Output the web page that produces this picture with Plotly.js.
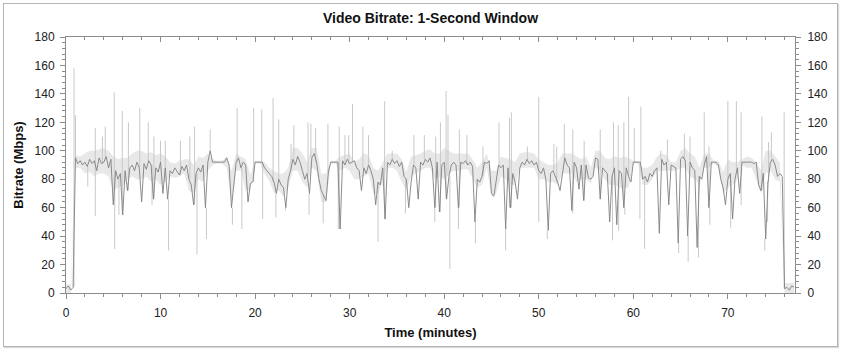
<!DOCTYPE html>
<html>
<head>
<meta charset="utf-8">
<script src="https://cdn.plot.ly/plotly-3.0.1.min.js"></script>
<style>
  html, body { margin: 0; padding: 0; background: #ffffff; }
  #wrap { position: relative; width: 842px; height: 351px; }
  #chart { width: 842px; height: 351px; }
  #frame { position: absolute; left: 3px; top: 3px; width: 833px; height: 342px;
           border: 1px solid #b4b4b4; box-shadow: 1px 1px 1px #d8d8d8; pointer-events: none; }
</style>
</head>
<body>
<div id="wrap">
  <div id="chart"></div>
  <div id="frame"></div>
</div>
<script>
// Sample spacing of the main series, in minutes
const sampleStepMin = 0.25;

// Video bitrate (Mbps), one value per sampleStepMin, starting at t = 0 min (4 values per minute)
const bitrate = [
  3, 5, 2, 4,        // 0
  95, 91, 93, 90,    // 1
  92, 89, 94, 91,    // 2
  93, 86, 95, 91,    // 3
  92, 96, 88, 94,    // 4
  62, 86, 80, 84,    // 5
  55, 86, 72, 88,    // 6
  90, 86, 92, 88,    // 7
  64, 91, 87, 93,    // 8
  90, 66, 88, 85,    // 9
  92, 70, 88, 66,    // 10
  86, 84, 88, 85,    // 11
  83, 89, 86, 90,    // 12
  80, 76, 62, 84,    // 13
  88, 85, 90, 60,    // 14
  92, 100, 92, 92,   // 15
  92, 92, 92, 92,    // 16
  95, 90, 60, 76,    // 17
  92, 95, 88, 92,    // 18
  90, 64, 77, 78,    // 19
  92, 92, 92, 92,    // 20
  88, 86, 84, 82,    // 21
  78, 70, 80, 76,    // 22
  74, 60, 80, 86,    // 23
  94, 90, 96, 92,    // 24
  86, 80, 84, 70,    // 25
  95, 98, 92, 80,    // 26
  72, 68, 65, 85,    // 27
  92, 92, 92, 92,    // 28
  45, 93, 90, 94,    // 29
  91, 92, 93, 88,    // 30
  86, 72, 88, 84,    // 31
  90, 86, 80, 62,    // 32
  78, 76, 88, 52,    // 33
  92, 90, 94, 91,    // 34
  93, 89, 92, 82,    // 35
  80, 60, 78, 90,    // 36
  88, 66, 92, 90,    // 37
  94, 92, 95, 88,    // 38
  60, 92, 57, 90,    // 39
  92, 66, 82, 90,    // 40
  92, 90, 60, 92,    // 41
  91, 93, 90, 92,    // 42
  89, 50, 80, 78,    // 43
  82, 92, 91, 93,    // 44
  70, 68, 80, 90,    // 45
  88, 90, 45, 88,    // 46
  60, 84, 78, 66,    // 47
  88, 92, 90, 94,    // 48
  91, 93, 90, 92,    // 49
  86, 84, 88, 80,    // 50
  44, 84, 86, 82,    // 51
  78, 72, 84, 95,    // 52
  90, 88, 58, 92,    // 53
  88, 73, 90, 65,    // 54
  90, 81, 80, 82,    // 55
  95, 94, 66, 88,    // 56
  86, 84, 50, 82,    // 57
  88, 48, 86, 84,    // 58
  60, 88, 82, 78,    // 59
  92, 92, 92, 92,    // 60
  80, 82, 78, 84,    // 61
  82, 86, 88, 42,    // 62
  94, 90, 92, 62,    // 63
  90, 89, 88, 35,    // 64
  94, 96, 93, 40,    // 65
  92, 88, 86, 32,    // 66
  82, 80, 90, 96,    // 67
  60, 92, 92, 92,    // 68
  90, 80, 74, 62,    // 69
  80, 84, 52, 80,    // 70
  88, 70, 92, 92,    // 71
  92, 92, 92, 91,    // 72
  92, 76, 72, 84,    // 73
  38, 78, 92, 94,    // 74
  90, 82, 84, 82,    // 75
  3, 4, 2, 5,        // 76
  4                  // 77
];

// Spread of the 1-second values around the main line, every 0.5 min (t = 0, 0.5, 1, ... 77)
const envStepMin = 0.5;
const spreadHigh = [
  6, 6,  97, 96,  98, 100,  100, 101,  102, 100,  96, 94,  95, 95,  98, 100,  100, 98,  99, 97,
  98, 96,  92, 91,  93, 94,  94, 90,  96, 95,  98, 94,  93, 93,  96, 86,  98, 96,  94, 83,
  93, 93,  92, 88,  86, 84,  84, 88,  102, 102,  98, 92,  102, 102,  84, 84,  93, 93,  96, 97,
  98, 92,  94, 98,  97, 88,  86, 92,  98, 98,  98, 94,  85, 96,  97, 98,  100, 101,  98, 98,
  102, 100,  98, 98,  98, 98,  94, 88,  92, 98,  86, 86,  96, 95,  94, 92,  98, 99,  99, 98,
  94, 92,  90, 90,  92, 98,  98, 98,  96, 94,  96, 88,  100, 100,  95, 94,  96, 95,  96, 95,
  93, 93,  88, 88,  90, 96,  98, 97,  92, 92,  100, 102,  98, 96,  88, 98,  98, 93,  93, 85,
  94, 92,  92, 94,  96, 95,  92, 86,  100, 100,  96, 92,  7, 7,  7
];
const spreadLow = [
  0, 0,  88, 88,  84, 85,  82, 84,  84, 82,  72, 74,  76, 80,  82, 80,  80, 82,  78, 80,
  76, 78,  82, 81,  82, 84,  72, 70,  80, 78,  86, 90,  91, 91,  88, 64,  86, 86,  72, 72,
  91, 91,  84, 79,  70, 72,  68, 74,  86, 86,  78, 74,  88, 86,  64, 64,  91, 91,  86, 88,
  86, 80,  80, 82,  84, 70,  70, 78,  88, 88,  86, 78,  72, 82,  84, 86,  88, 88,  80, 82,
  80, 84,  86, 86,  87, 87,  80, 74,  76, 88,  68, 70,  82, 80,  76, 76,  88, 88,  88, 88,
  80, 80,  78, 78,  76, 84,  84, 84,  78, 80,  80, 77,  88, 86,  80, 76,  76, 74,  74, 74,
  91, 91,  76, 76,  80, 86,  86, 86,  86, 86,  88, 88,  82, 80,  76, 88,  88, 91,  88, 70,
  74, 76,  80, 90,  88, 88,  80, 70,  84, 86,  80, 78,  0, 0,  0
];

// Short 1-second peaks (upward): time (min), bitrate (Mbps)
const peakTimes = [0.85, 1.0, 3.1, 3.85, 4.15, 5.1, 5.95, 6.6, 7.8, 8.7, 9.3, 10.0, 10.5, 12.1, 13.1, 13.6,
  15.25, 18.1, 19.85, 20.7, 21.9, 22.5, 23.8, 24.1, 25.6, 25.9, 26.4, 27.7, 28.9, 29.5, 29.9, 30.3, 31.4,
  32.0, 33.7, 34.5, 36.8, 37.9, 39.1, 39.6, 40.2, 40.4, 41.6, 42.4, 44.1, 45.8, 46.9, 47.1, 48.8, 50.0,
  51.6, 51.9, 52.7, 53.6, 54.8, 56.5, 57.9, 58.4, 59.0, 59.5, 60.1, 60.8, 62.9, 63.6, 65.4, 66.0, 67.5,
  68.0, 70.0, 70.9, 71.4, 73.6, 74.3, 74.6, 75.95];
const peakValues = [158, 125, 116, 110, 117, 141, 128, 120, 130, 120, 110, 107, 107, 107, 110, 117,
  115, 130, 130, 129, 137, 122, 105, 118, 120, 119, 116, 119, 117, 111, 111, 133, 117,
  111, 135, 100, 111, 111, 110, 120, 142, 125, 115, 111, 103, 120, 123, 127, 103, 138,
  105, 103, 119, 115, 107, 115, 120, 118, 120, 138, 116, 131, 100, 108, 112, 110, 127,
  103, 135, 135, 127, 124, 106, 113, 127];

// Short 1-second drops (downward): time (min), bitrate (Mbps)
const dropTimes = [2.3, 3.1, 5.15, 5.6, 9.1, 10.85, 13.85, 14.85, 17.6, 18.6, 20.8, 22.2, 23.2, 25.7, 27.2,
  28.8, 33.0, 35.9, 37.3, 39.0, 40.6, 41.5, 43.3, 46.5, 50.0, 50.9, 53.6, 57.8, 58.45, 59.1, 60.7, 61.2,
  62.8, 64.8, 65.8, 66.9, 68.1, 69.8, 70.3, 71.4, 73.9, 74.2];
const dropValues = [75, 54, 31, 55, 62, 30, 27, 38, 48, 45, 52, 53, 58, 55, 49,
  45, 36, 56, 66, 50, 17, 45, 35, 30, 50, 38, 56, 37, 44, 55, 52, 31,
  42, 28, 22, 25, 48, 62, 46, 62, 30, 50];

// Axis tick values
const xTickVals = [0, 10, 20, 30, 40, 50, 60, 70];
const yTickVals = [0, 20, 40, 60, 80, 100, 120, 140, 160, 180];

// ---- build traces ----
const times = bitrate.map((_, i) => i * sampleStepMin);
const envTimes = spreadHigh.map((_, i) => i * envStepMin);

function spikeSegments(ts, vs) {
  const xs = [], ys = [];
  ts.forEach((t, k) => {
    const idx = Math.min(bitrate.length - 1, Math.round(t / sampleStepMin));
    xs.push(t, t, null);
    ys.push(bitrate[idx], vs[k], null);
  });
  return { xs, ys };
}
const up = spikeSegments(peakTimes, peakValues);
const down = spikeSegments(dropTimes, dropValues);

const font = "'Liberation Sans', Arial, sans-serif";

const traces = [
  { x: envTimes, y: spreadLow, type: 'scatter', mode: 'lines', line: { width: 0, color: 'rgba(0,0,0,0)' },
    hoverinfo: 'skip', xaxis: 'x', yaxis: 'y', showlegend: false },
  { x: envTimes, y: spreadHigh, type: 'scatter', mode: 'lines', line: { width: 0, color: 'rgba(0,0,0,0)' },
    fill: 'tonexty', fillcolor: 'rgba(195,195,195,0.38)',
    hoverinfo: 'skip', xaxis: 'x', yaxis: 'y', showlegend: false },
  { x: up.xs.concat(down.xs), y: up.ys.concat(down.ys), type: 'scatter', mode: 'lines',
    line: { color: '#c8c8c8', width: 1 }, connectgaps: false, hoverinfo: 'skip',
    xaxis: 'x', yaxis: 'y', showlegend: false },
  { x: times, y: bitrate, type: 'scatter', mode: 'lines',
    line: { color: '#808080', width: 0.9 }, hoverinfo: 'skip',
    xaxis: 'x2', yaxis: 'y2', showlegend: false }
];

const axisCommon = {
  showgrid: false, zeroline: false, showline: true, linecolor: '#8c8c8c', linewidth: 1,
  tickcolor: '#8c8c8c', ticklen: 5, tickwidth: 1,
  tickfont: { family: font, size: 12, color: '#222222' }
};

const layout = {
  width: 842, height: 351,
  margin: { l: 66, r: 47, t: 37, b: 58, pad: 0 },
  paper_bgcolor: '#ffffff', plot_bgcolor: '#ffffff',
  showlegend: false,
  title: { text: '<b>Video Bitrate: 1-Second Window</b>', font: { family: font, size: 14, color: '#111111' },
           x: 0.5, xref: 'paper', y: 0.948, yref: 'container', yanchor: 'middle' },
  xaxis: Object.assign({}, axisCommon, {
    range: [0, 77.1], tickmode: 'array', tickvals: xTickVals, ticks: 'outside',
    minor: { dtick: 2, ticks: 'outside', ticklen: 3, tickcolor: '#8c8c8c' },
    title: { text: '<b>Time (minutes)</b>', font: { family: font, size: 13, color: '#111111' }, standoff: 8 },
    ticklabelstandoff: 4
  }),
  xaxis2: Object.assign({}, axisCommon, {
    range: [0, 77.1], overlaying: 'x', side: 'top', anchor: 'y2', tickmode: 'array', tickvals: xTickVals,
    ticks: 'inside', showticklabels: false,
    minor: { dtick: 2, ticks: 'inside', ticklen: 3, tickcolor: '#8c8c8c' }
  }),
  yaxis: Object.assign({}, axisCommon, {
    range: [0, 180], tickmode: 'array', tickvals: yTickVals, ticks: 'outside',
    minor: { dtick: 4, ticks: 'outside', ticklen: 3, tickcolor: '#8c8c8c' },
    title: { text: '<b>Bitrate (Mbps)</b>', font: { family: font, size: 13, color: '#111111' }, standoff: 8 },
    ticklabelstandoff: 3
  }),
  yaxis2: Object.assign({}, axisCommon, {
    range: [0, 180], overlaying: 'y', side: 'right', anchor: 'x2', tickmode: 'array', tickvals: yTickVals,
    ticks: 'outside',
    minor: { dtick: 4, ticks: 'outside', ticklen: 3, tickcolor: '#8c8c8c' },
    ticklabelstandoff: 4
  })
};

Plotly.newPlot('chart', traces, layout, { staticPlot: true, displayModeBar: false });
</script>
</body>
</html>
